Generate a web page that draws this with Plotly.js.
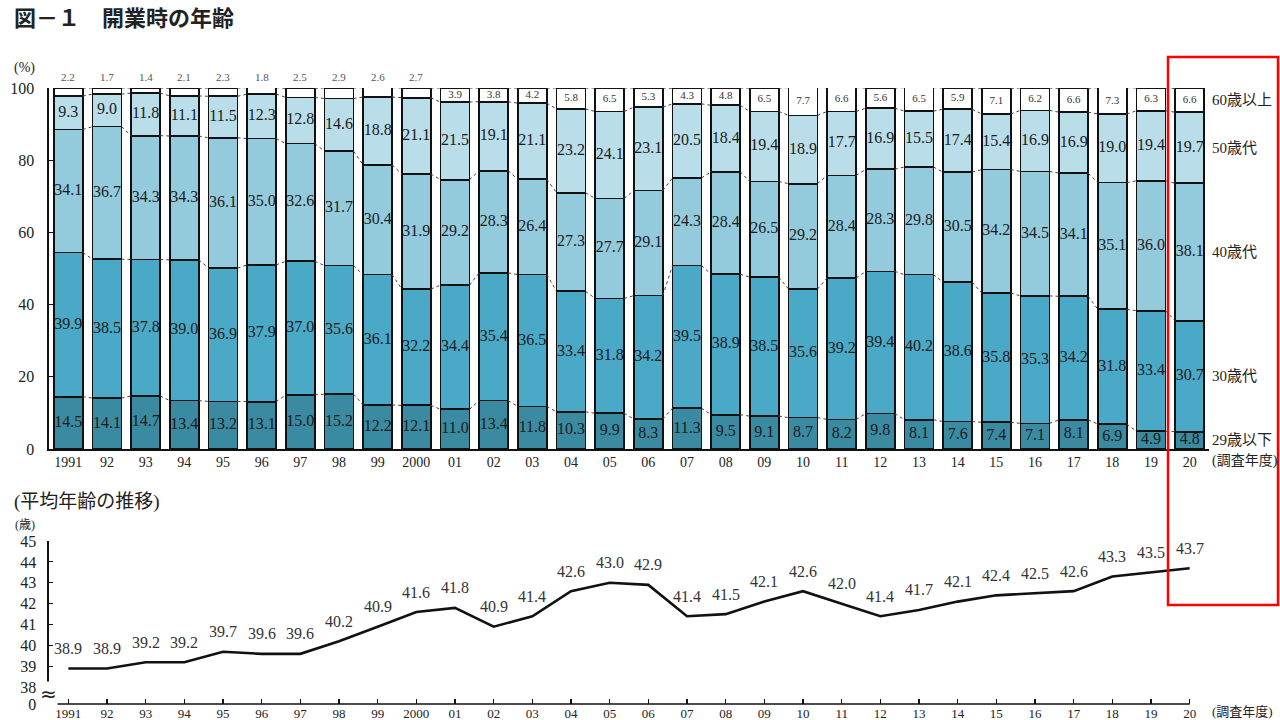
<!DOCTYPE html>
<html><head><meta charset="utf-8">
<script src="https://cdn.plot.ly/plotly-3.0.1.min.js"></script>
<style>html,body{margin:0;padding:0;background:#fff}#chart{width:1280px;height:720px}</style>
</head><body><div id="chart"></div>
<script>
const years = ["1991","92","93","94","95","96","97","98","99","2000","01","02","03","04","05","06","07","08","09","10","11","12","13","14","15","16","17","18","19","20"];
const under29 = [14.5,14.1,14.7,13.4,13.2,13.1,15.0,15.2,12.2,12.1,11.0,13.4,11.8,10.3,9.9,8.3,11.3,9.5,9.1,8.7,8.2,9.8,8.1,7.6,7.4,7.1,8.1,6.9,4.9,4.8];
const age30s = [39.9,38.5,37.8,39.0,36.9,37.9,37.0,35.6,36.1,32.2,34.4,35.4,36.5,33.4,31.8,34.2,39.5,38.9,38.5,35.6,39.2,39.4,40.2,38.6,35.8,35.3,34.2,31.8,33.4,30.7];
const age40s = [34.1,36.7,34.3,34.3,36.1,35.0,32.6,31.7,30.4,31.9,29.2,28.3,26.4,27.3,27.7,29.1,24.3,28.4,26.5,29.2,28.4,28.3,29.8,30.5,34.2,34.5,34.1,35.1,36.0,38.1];
const age50s = [9.3,9.0,11.8,11.1,11.5,12.3,12.8,14.6,18.8,21.1,21.5,19.1,21.1,23.2,24.1,23.1,20.5,18.4,19.4,18.9,17.7,16.9,15.5,17.4,15.4,16.9,16.9,19.0,19.4,19.7];
const over60 = [2.2,1.7,1.4,2.1,2.3,1.8,2.5,2.9,2.6,2.7,3.9,3.8,4.2,5.8,6.5,5.3,4.3,4.8,6.5,7.7,6.6,5.6,6.5,5.9,7.1,6.2,6.6,7.3,6.3,6.6];
const avgAge = [38.9,38.9,39.2,39.2,39.7,39.6,39.6,40.2,40.9,41.6,41.8,40.9,41.4,42.6,43.0,42.9,41.4,41.5,42.1,42.6,42.0,41.4,41.7,42.1,42.4,42.5,42.6,43.3,43.5,43.7];
const seriesNames = ["29歳以下","30歳代","40歳代","50歳代","60歳以上"];
const seriesColors = ["#3a8aa1","#4aa9c6","#93cbdd","#b9deea","#ffffff"];

const NUMFONT = "Liberation Serif, Noto Sans CJK JP, serif";
const JPFONT = "Noto Sans CJK JP, sans-serif";
const series = [under29, age30s, age40s, age50s, over60];
const idx = years.map((_, i) => i);
const BW = 0.75;

// cumulative sums
const cum = [];
let run = idx.map(() => 0);
series.forEach(s => { run = run.map((v, i) => v + s[i]); cum.push(run.slice()); });
const base = (k, i) => (k === 0 ? 0 : cum[k - 1][i]);

const traces = [];
series.forEach((s, k) => {
  traces.push({
    type: "bar", x: idx, y: s, name: seriesNames[k], xaxis: "x", yaxis: "y",
    width: BW, marker: { color: seriesColors[k], line: { color: "#111", width: 1.7 } },
    hoverinfo: "skip", showlegend: false
  });
});

// dotted connectors between bars
cum.forEach(c => {
  const xs = [], ys = [];
  for (let i = 0; i < idx.length - 1; i++) {
    xs.push(i + BW / 2, i + 1 - BW / 2, null);
    ys.push(c[i], c[i + 1], null);
  }
  traces.push({
    type: "scatter", mode: "lines", x: xs, y: ys, xaxis: "x", yaxis: "y",
    line: { color: "#444", width: 1, dash: "dot" }, hoverinfo: "skip", showlegend: false, cliponaxis: false
  });
});

// segment value labels (four lower series)
for (let k = 0; k < 4; k++) {
  traces.push({
    type: "scatter", mode: "text", x: idx, y: idx.map(i => base(k, i) + series[k][i] / 2),
    text: series[k].map(v => v.toFixed(1)), textposition: "middle center",
    textfont: { family: NUMFONT, size: 16, color: "#1b1b1b" }, xaxis: "x", yaxis: "y",
    hoverinfo: "skip", showlegend: false, cliponaxis: false
  });
}
// 60+ labels inside the white segment when it is tall enough
const inIdx = idx.filter(i => over60[i] >= 3.5);
traces.push({
  type: "scatter", mode: "text", x: inIdx, y: inIdx.map(i => base(4, i) + over60[i] / 2),
  text: inIdx.map(i => over60[i].toFixed(1)), textposition: "middle center",
  textfont: { family: NUMFONT, size: 11, color: "#333" }, xaxis: "x", yaxis: "y",
  hoverinfo: "skip", showlegend: false, cliponaxis: false
});

// average age line
traces.push({
  type: "scatter", mode: "lines", x: idx, y: avgAge, xaxis: "x2", yaxis: "y2",
  line: { color: "#111", width: 2.6 }, hoverinfo: "skip", showlegend: false, cliponaxis: false
});

const annotations = [];
// 60+ labels above thin segments
idx.filter(i => over60[i] < 3.5).forEach(i => {
  annotations.push({ x: i, y: Math.min(cum[4][i], 100), xref: "x", yref: "y", yshift: 11, showarrow: false,
    text: over60[i].toFixed(1), font: { family: NUMFONT, size: 11, color: "#555" } });
});
// series names at the right of the last bar
const last = idx.length - 1;
series.forEach((s, k) => {
  annotations.push({ x: last + 0.5, y: Math.min(base(k, last) + s[last] / 2, 100), xref: "x", yref: "y",
    xanchor: "left", xshift: 1, showarrow: false, text: seriesNames[k],
    font: { family: NUMFONT, size: 15, color: "#222" } });
});
// average labels
avgAge.forEach((v, i) => {
  annotations.push({ x: i, y: v, xref: "x2", yref: "y2", yshift: 20, showarrow: false,
    text: v.toFixed(1), font: { family: NUMFONT, size: 16, color: "#333" } });
});

const W = 1280, H = 720, ML = 49, MR = 71, MT = 88, MB = 16;
const pw = W - ML - MR, ph = H - MT - MB;
const px = (x) => (x - ML) / pw, py = (y) => (H - MB - y) / ph;
annotations.push(
  { x: px(12), y: py(68), xref: "paper", yref: "paper", xanchor: "left", yanchor: "middle",
    text: "(%)", showarrow: false, font: { family: NUMFONT, size: 14, color: "#222" } },
  { x: px(1210), y: py(461), xref: "paper", yref: "paper", xanchor: "left", yanchor: "middle",
    text: "(調査年度)", showarrow: false, font: { family: NUMFONT, size: 14, color: "#222" } },
  { x: px(1210), y: py(712), xref: "paper", yref: "paper", xanchor: "left", yanchor: "middle",
    text: "(調査年度)", showarrow: false, font: { family: NUMFONT, size: 13, color: "#222" } },
  { x: px(12), y: py(502), xref: "paper", yref: "paper", xanchor: "left", yanchor: "middle",
    text: "(平均年齢の推移)", showarrow: false, font: { family: NUMFONT, size: 19, color: "#222" } },
  { x: px(13), y: py(525), xref: "paper", yref: "paper", xanchor: "left", yanchor: "middle",
    text: "(歳)", showarrow: false, font: { family: NUMFONT, size: 12, color: "#222" } },
  { x: px(48), y: py(694), xref: "paper", yref: "paper", xanchor: "center", yanchor: "middle",
    text: "≈", showarrow: false, bgcolor: "#fff", borderpad: 0, font: { family: "DejaVu Sans, sans-serif", size: 20, color: "#222" } }
);

const topBottom = (H - MB - 449) / ph;
const botTop = (H - MB - 541) / ph;

const layout = {
  width: W, height: H,
  margin: { l: ML, r: MR, t: MT, b: MB },
  paper_bgcolor: "#fff", plot_bgcolor: "rgba(0,0,0,0)",
  barmode: "stack", bargap: 0.25, showlegend: false, hovermode: false,
  title: { text: "<b>図－１　開業時の年齢</b>", xref: "container", yref: "container",
    x: 0.011, xanchor: "left", y: 1 - 18 / H, yanchor: "middle",
    font: { family: JPFONT, size: 22, color: "#222" } },
  xaxis: { domain: [0, 1], range: [-0.5, 29.5], anchor: "y", tickvals: idx, ticktext: years,
    showline: true, linecolor: "#111", linewidth: 1.6, ticks: "", showgrid: false, zeroline: false,
    tickfont: { family: NUMFONT, size: 14, color: "#222" }, fixedrange: true },
  yaxis: { domain: [topBottom, 1], range: [0, 100], anchor: "x", tickvals: [0, 20, 40, 60, 80, 100],
    showline: true, linecolor: "#111", linewidth: 1.6, ticks: "inside", ticklen: 4, tickcolor: "#111",
    ticklabelstandoff: 10, showgrid: false, zeroline: false,
    tickfont: { family: NUMFONT, size: 16, color: "#222" }, fixedrange: true },
  xaxis2: { domain: [0, 1], range: [-0.5, 29.5], anchor: "y2", tickvals: idx, ticktext: years,
    showline: false, ticks: "inside", ticklen: 5, tickcolor: "#111", tickwidth: 1.4,
    ticklabelstandoff: 0, showgrid: false, zeroline: false,
    tickfont: { family: NUMFONT, size: 13, color: "#222" }, fixedrange: true },
  yaxis2: { domain: [0, botTop], range: [37.2, 45], anchor: "x2",
    tickvals: [37.2, 38, 39, 40, 41, 42, 43, 44, 45], ticktext: ["0", "38", "39", "40", "41", "42", "43", "44", "45"],
    showline: true, linecolor: "#111", linewidth: 1.6, ticks: "inside", ticklen: 4, tickcolor: "#111",
    ticklabelstandoff: 8, showgrid: false, zeroline: false,
    tickfont: { family: NUMFONT, size: 16, color: "#222" }, fixedrange: true },
  shapes: [
    { type: "line", xref: "x2", yref: "paper", x0: -0.5, x1: 29, y0: 0, y1: 0,
      line: { color: "#111", width: 1.6 } },
    { type: "rect", xref: "paper", yref: "paper", x0: px(1168), x1: px(1278), y0: py(605), y1: py(57),
      line: { color: "#ff0000", width: 2.5 }, fillcolor: "rgba(0,0,0,0)" }
  ],
  annotations: annotations
};

Plotly.newPlot("chart", traces, layout, { displayModeBar: false, staticPlot: true });
</script></body></html>
